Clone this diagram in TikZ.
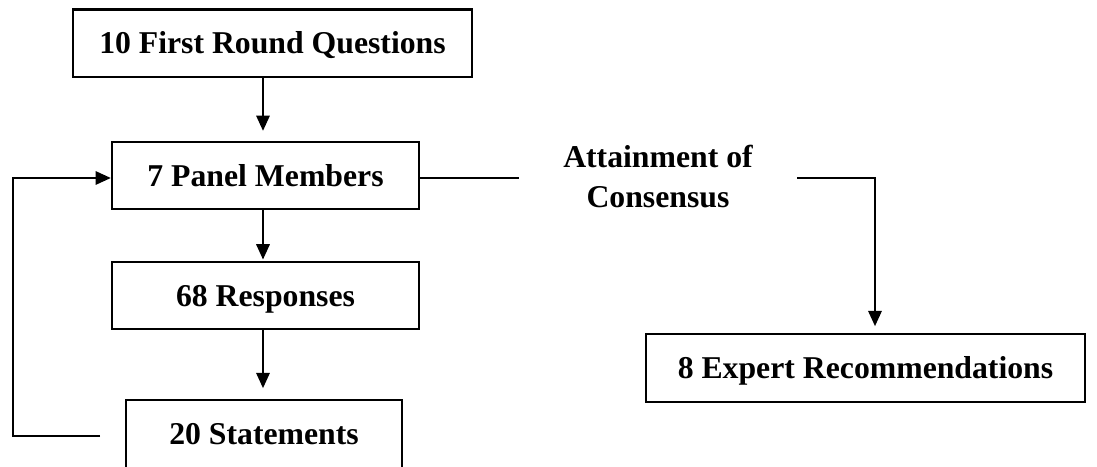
\documentclass[tikz,border=0pt]{standalone}
\usepackage{fontspec}
\setmainfont{Liberation Serif}
\usetikzlibrary{arrows.meta}
\begin{document}
\begin{tikzpicture}[x=0.75pt, y=-0.75pt,
  every node/.style={font=\fontsize{23.8pt}{30pt}\selectfont\bfseries},
  box/.style={draw, line width=1.7pt, inner sep=0pt, text height=15.8pt, text depth=0pt},
  conn/.style={line width=1.7pt},
  arr/.style={conn, -{Triangle[length=11.5pt, width=10pt]}}]
  \useasboundingbox (0,0) rectangle (1097,467);

  % process boxes
  \node[box, minimum width=299.25pt, minimum height=50.6pt]  (q)   at (272.5,43.25) {10 First Round Questions};
  \node[box, minimum width=230.25pt, minimum height=50.25pt] (pm)  at (265.5,175.5) {7 Panel Members};
  \node[box, minimum width=230.25pt, minimum height=50.25pt] (rsp) at (265.5,295.5) {68 Responses};
  \node[box, minimum width=207pt,    minimum height=51pt]    (st)  at (264,434)     {20 Statements};
  \node[box, minimum width=329.25pt, minimum height=51pt]    (rec) at (865.5,368)   {8 Expert Recommendations};

  % consensus label
  \node[align=center, inner sep=0pt] (att) at (658,177) {Attainment of\\Consensus};

  % routing points
  \coordinate (ax) at (263,0);
  \coordinate (c1) at (519,178);
  \coordinate (c2) at (797,178);
  \coordinate (c3) at (875,178);
  \coordinate (fb) at (100,436);
  \coordinate (fbx) at (13,0);

  % main flow
  \draw[arr, shorten >=7.5pt] (q.south -| ax) -- (pm.north -| ax);
  \draw[arr, shorten >=1pt]   (pm.south -| ax) -- (rsp.north -| ax);
  \draw[arr, shorten >=8pt]   (rsp.south -| ax) -- (st.north -| ax);

  % consensus branch
  \draw[conn] (pm.east |- c1) -- (c1);
  \draw[arr, shorten >=5pt] (c2) -- (c3) -- (c3 |- rec.north);

  % feedback loop
  \draw[arr] (fb) -| (fbx |- c1) -- (pm.west |- c1);
\end{tikzpicture}
\end{document}
